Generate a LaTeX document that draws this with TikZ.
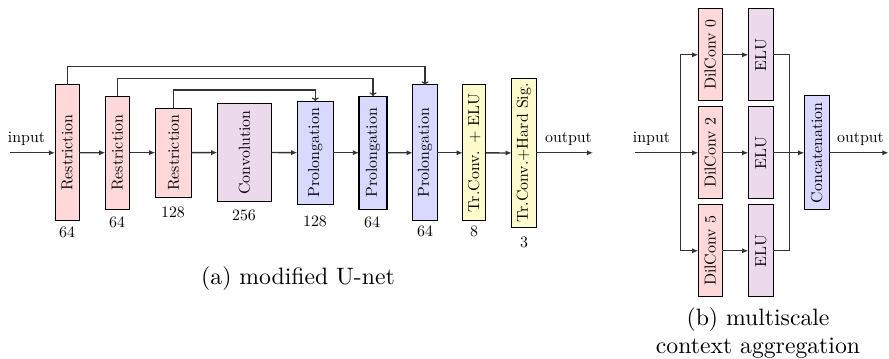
\documentclass[tikz,border=0pt]{standalone}
\usepackage{fontspec}
\usetikzlibrary{arrows.meta}
\newfontfamily\lmten[Extension=.otf]{lmroman10-regular}
\newcommand\pxu{0.422pt}
\tikzset{
 blk/.style={draw=black, line width=0.45pt, inner sep=0pt, outer sep=0pt, font=\lmten\fontsize{6.7}{8}\selectfont},
 rbox/.style={blk, fill=red!15},
 pbox/.style={blk, fill=blue!15},
 cbox/.style={blk, fill=violet!15},
 ybox/.style={blk, fill=yellow!20},
 conn/.style={draw=black!80, line width=0.55pt, -{Latex[length=2.6pt,width=2.2pt]}},
 plain/.style={draw=black!80, line width=0.55pt},
 skip/.style={draw=black!80, line width=0.5pt, -{To[length=1.5pt,width=3pt]}},
 lbl/.style={font=\lmten\fontsize{6.7}{8}\selectfont, inner sep=0pt},
}
\begin{document}
\begin{tikzpicture}[x=\pxu, y=-\pxu]
\useasboundingbox (0,0) rectangle (889,358);
% ---- (a) modified U-net
\node[rbox, minimum width=24.3*\pxu, minimum height=135.7*\pxu] (r1) at (67.2,152.8) {\rotatebox{90}{Restriction}};
\node[rbox, minimum width=24.4*\pxu, minimum height=113.3*\pxu] (r2) at (117.5,152.7) {\rotatebox{90}{Restriction}};
\node[rbox, minimum width=36.4*\pxu, minimum height=89.3*\pxu] (r3) at (173.5,152.7) {\rotatebox{90}{Restriction}};
\node[cbox, minimum width=54.4*\pxu, minimum height=98.4*\pxu] (cv) at (244.5,152.5) {\rotatebox{90}{Convolution}};
\node[pbox, minimum width=36*\pxu, minimum height=103.3*\pxu] (p1) at (315.3,152.7) {\rotatebox{90}{Prolongation}};
\node[pbox, minimum width=28*\pxu, minimum height=113.3*\pxu] (p2) at (373,152.7) {\rotatebox{90}{Prolongation}};
\node[pbox, minimum width=24.6*\pxu, minimum height=135.7*\pxu] (p3) at (425,152.8) {\rotatebox{90}{Prolongation}};
\node[ybox, minimum width=23*\pxu, minimum height=135.7*\pxu] (t1) at (474.2,152.8) {\rotatebox{90}{Tr.Conv. + ELU}};
\node[ybox, minimum width=24.6*\pxu, minimum height=149.4*\pxu] (t2) at (524,153) {\rotatebox{90}{Tr.Conv.+Hard Sig.}};

\node[lbl] (l1) at (67,232.7) {64};
\node[lbl] (l2) at (117,222.7) {64};
\node[lbl] (l3) at (173,212.7) {128};
\node[lbl] (l4) at (244,215.7) {256};
\node[lbl] (l5) at (315,221.7) {128};
\node[lbl] (l6) at (372,222) {64};
\node[lbl] (l7) at (425,231.7) {64};
\node[lbl] (l8) at (474,231.7) {8};
\node[lbl] (l9) at (524,242) {3};

\node[lbl] (ina) at (26.5,139) {input};
\coordinate (ia) at (10,152.8);
\node[lbl] (outa) at (568.5,139) {output};
\coordinate (oa) at (593,152.8);

\draw[conn] (ia) -- (r1.west);
\draw[conn] (r1) -- (r2);
\draw[conn] (r2) -- (r3);
\draw[conn] (r3) -- (cv);
\draw[conn] (cv) -- (p1);
\draw[conn] (p1) -- (p2);
\draw[conn] (p2) -- (p3);
\draw[conn] (p3) -- (t1);
\draw[conn] (t1) -- (t2);
\draw[conn] (t2.east |- oa) -- (oa);

\coordinate (s1) at (0,66.7);
\coordinate (s2) at (0,78.3);
\coordinate (s3) at (0,90);
\draw[skip] (r1.north) -- (r1.north |- s1) -- (p3.north |- s1) -- (p3.north);
\draw[skip] (r2.north) -- (r2.north |- s2) -- (p2.north |- s2) -- (p2.north);
\draw[skip] (r3.north) -- (r3.north |- s3) -- (p1.north |- s3) -- (p1.north);

\node (capa) at (298,279) {(a) modified U-net};

% ---- (b) multiscale context aggregation
\node[rbox, minimum width=24*\pxu, minimum height=91.7*\pxu] (d0) at (710.3,54.8) {\rotatebox{90}{DilConv 0}};
\node[rbox, minimum width=24*\pxu, minimum height=92.3*\pxu] (d2) at (710.3,152.8) {\rotatebox{90}{DilConv 2}};
\node[rbox, minimum width=24*\pxu, minimum height=91.7*\pxu] (d5) at (710.3,250.8) {\rotatebox{90}{DilConv 5}};
\node[cbox, minimum width=25*\pxu, minimum height=91.7*\pxu] (e0) at (760.8,54.8) {\rotatebox{90}{ELU}};
\node[cbox, minimum width=25*\pxu, minimum height=92.3*\pxu] (e2) at (760.8,152.8) {\rotatebox{90}{ELU}};
\node[cbox, minimum width=25*\pxu, minimum height=91.7*\pxu] (e5) at (760.8,250.8) {\rotatebox{90}{ELU}};
\node[pbox, minimum width=25*\pxu, minimum height=114*\pxu] (cc) at (816.8,152.8) {\rotatebox{90}{Concatenation}};

\node[lbl] (inb) at (651.5,139) {input};
\coordinate (ib) at (635,152.8);
\coordinate (br) at (680.7,152.8);
\node[lbl] (outb) at (860.5,139) {output};
\coordinate (ob) at (888.5,152.8);
\coordinate (mg) at (789.3,152.8);

\draw[conn] (ib) -- (br) |- (d0.west);
\draw[conn] (ib) -- (br) -- (d2.west);
\draw[conn] (ib) -- (br) |- (d5.west);
\draw[conn] (d0) -- (e0);
\draw[conn] (d2) -- (e2);
\draw[conn] (d5) -- (e5);
\draw[plain] (e0.east) -| (mg);
\draw[plain] (e5.east) -| (mg);
\draw[conn] (e2.east) -- (cc.west);
\draw[conn] (cc.east) -- (ob);

\node[align=center, font=\fontsize{10}{11.6}\selectfont] (capb) at (758,333) {(b) multiscale\\context aggregation};
\end{tikzpicture}
\end{document}
